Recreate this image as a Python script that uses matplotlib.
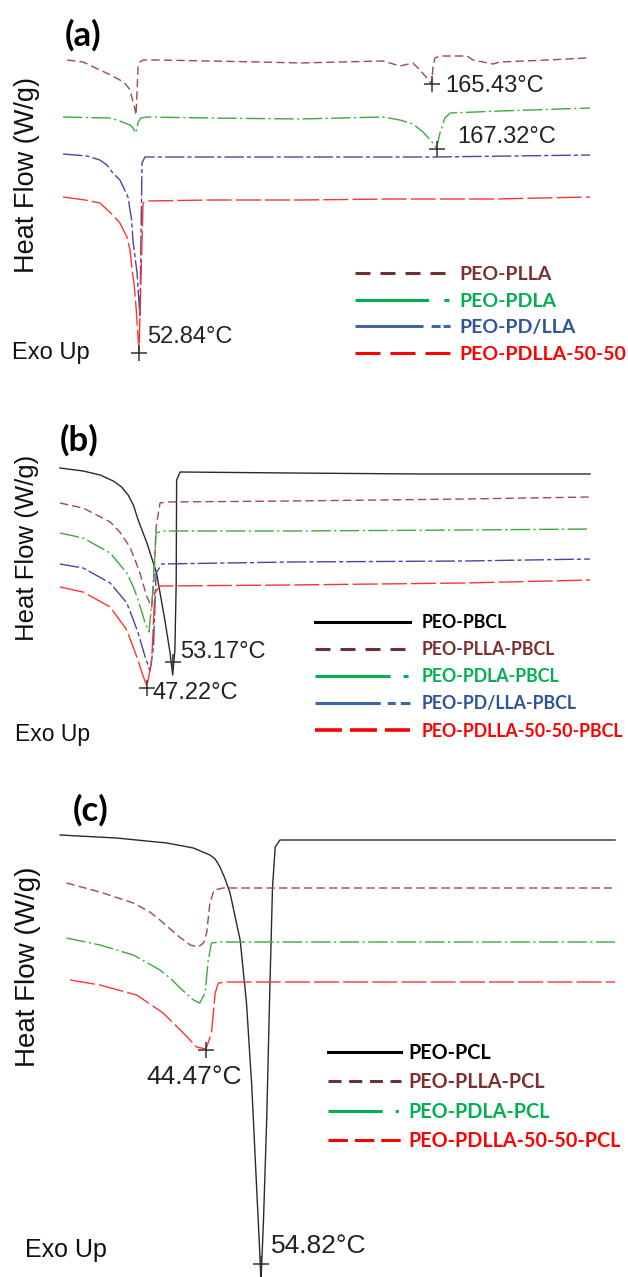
import matplotlib
matplotlib.use('Agg')
import matplotlib.pyplot as plt
from matplotlib.lines import Line2D

# dashes given in points, not in multiples of the line width
plt.rcParams['lines.scale_dashes'] = False

W, H = 628, 1277

# ---------------- data: (temperature in C, heat flow in W/g, curves offset) ----------------
# panel (a)
a_plla = [(25.2, 3.10), (31.3, 3.08), (37.8, 3.00), (42.0, 2.95), (45.5, 2.90), (48.0, 2.85),
          (49.4, 2.80), (50.5, 2.68), (51.2, 2.62), (51.7, 2.55), (52.1, 2.80), (52.5, 3.03),
          (53.2, 3.08), (54.4, 3.10), (60.0, 3.10), (80.0, 3.09), (100.0, 3.08), (114.8, 3.07),
          (130.0, 3.08), (146.7, 3.09), (153.2, 3.04), (158.2, 3.07), (160.9, 3.00), (163.6, 2.92),
          (165.4, 2.86), (165.9, 3.03), (166.7, 3.12), (168.6, 3.14), (179.0, 3.14), (181.3, 3.10),
          (189.0, 3.06), (191.7, 3.08), (210.0, 3.10), (225.1, 3.12)]
a_pdla = [(23.6, 2.53), (41.7, 2.52), (45.5, 2.49), (49.4, 2.45), (50.5, 2.42), (51.7, 2.37),
          (52.5, 2.48), (53.6, 2.52), (55.9, 2.53), (80.0, 2.52), (114.8, 2.51), (146.7, 2.53),
          (153.2, 2.50), (158.2, 2.46), (162.1, 2.38), (165.5, 2.28), (167.3, 2.22), (168.6, 2.37),
          (170.5, 2.52), (172.5, 2.57), (191.7, 2.59), (226.3, 2.62)]
a_pdlla = [(23.6, 2.16), (32.8, 2.14), (37.8, 2.10), (40.5, 2.05), (42.8, 1.97), (45.5, 1.90),
           (48.6, 1.73), (50.0, 1.50), (50.5, 1.30), (52.1, 0.97), (53.2, 0.53), (53.6, 1.30),
           (54.0, 2.07), (55.1, 2.13), (80.0, 2.13), (114.8, 2.13), (165.9, 2.13), (226.3, 2.15)]
a_5050 = [(23.6, 1.73), (32.1, 1.70), (37.8, 1.67), (42.8, 1.55), (45.5, 1.47), (48.2, 1.33),
          (49.4, 1.20), (50.2, 1.00), (51.0, 0.85), (51.7, 0.63), (52.3, 0.40), (52.84, 0.19),
          (53.6, 0.90), (54.4, 1.67), (55.9, 1.69), (80.0, 1.70), (114.8, 1.70), (150.0, 1.71),
          (190.0, 1.71), (226.3, 1.73)]
a_peaks = [(52.84, 0.17), (165.43, 2.86), (167.32, 2.21)]

# panel (b)
b_pbcl = [(27.3, 2.92), (32.6, 2.89), (36.5, 2.85), (39.5, 2.79), (41.4, 2.73), (42.9, 2.65),
          (44.1, 2.55), (45.2, 2.40), (47.2, 2.17), (49.4, 1.87), (51.3, 1.40), (52.5, 1.07),
          (53.1, 0.85), (53.6, 1.10), (53.9, 1.77), (54.0, 2.80), (54.8, 2.88), (80.0, 2.87),
          (110.0, 2.86), (148.6, 2.86)]
b_plla = [(27.3, 2.57), (32.6, 2.52), (38.8, 2.38), (41.0, 2.28), (43.3, 2.13), (44.5, 2.00),
          (45.6, 1.87), (47.2, 1.63), (48.3, 1.53), (48.8, 1.80), (49.3, 2.33), (50.2, 2.57),
          (51.7, 2.58), (80.0, 2.59), (120.0, 2.61), (148.6, 2.63)]
b_pdla = [(27.3, 2.27), (32.6, 2.22), (38.8, 2.07), (42.6, 1.87), (44.1, 1.73), (45.2, 1.60),
          (46.8, 1.37), (47.7, 1.28), (48.5, 1.67), (49.3, 2.27), (50.9, 2.29), (80.0, 2.29),
          (120.0, 2.30), (148.6, 2.31)]
b_pdlla = [(27.3, 1.96), (32.6, 1.92), (38.8, 1.77), (42.6, 1.57), (44.1, 1.40), (45.2, 1.27),
           (46.8, 1.03), (47.9, 0.89), (48.7, 1.13), (49.3, 1.87), (50.6, 1.96), (80.0, 1.98),
           (120.0, 1.99), (148.6, 2.01)]
b_5050 = [(27.3, 1.73), (32.6, 1.68), (38.8, 1.53), (42.6, 1.30), (44.9, 1.03), (46.4, 0.83),
          (47.2, 0.74), (47.9, 0.90), (48.3, 1.00), (49.0, 1.67), (50.2, 1.74), (80.0, 1.75),
          (120.0, 1.77), (148.6, 1.80)]
b_peaks = [(47.22, 0.72), (53.17, 0.98)]

# panel (c)
c_pcl = [(17.0, 4.42), (27.6, 4.39), (37.1, 4.34), (42.1, 4.29), (45.2, 4.22), (46.2, 4.18),
         (47.1, 4.10), (48.0, 3.99), (49.0, 3.84), (50.9, 3.37), (52.1, 2.74), (53.1, 1.90),
         (54.0, 0.90), (54.6, 0.24), (54.82, -0.05), (55.3, 0.57), (55.9, 1.57), (56.5, 2.90),
         (57.0, 3.90), (57.5, 4.30), (58.4, 4.37), (121.5, 4.37)]
c_plla = [(18.2, 3.94), (24.5, 3.85), (30.8, 3.74), (33.9, 3.65), (35.8, 3.57), (39.0, 3.42),
          (41.5, 3.32), (43.0, 3.30), (44.0, 3.34), (44.6, 3.44), (45.2, 3.74), (46.0, 3.87),
          (47.7, 3.89), (121.5, 3.89)]
c_pdla = [(18.2, 3.39), (24.5, 3.32), (30.8, 3.22), (35.8, 3.07), (37.7, 2.99), (39.6, 2.89),
          (42.1, 2.77), (43.3, 2.74), (44.3, 2.84), (44.9, 3.17), (45.5, 3.34), (47.1, 3.35),
          (121.5, 3.35)]
c_5050 = [(18.9, 2.97), (24.5, 2.92), (31.4, 2.82), (36.4, 2.64), (40.2, 2.44), (42.7, 2.30),
          (44.47, 2.28), (45.5, 2.44), (46.2, 2.84), (46.8, 2.94), (48.4, 2.95), (121.5, 2.95)]
c_peaks = [(44.47, 2.27), (54.82, 0.13)]

# ---------------- styles ----------------
BROWN, GREEN, BLUE, RED, BLACK = '#9E4B4B', '#3DAA3D', '#4646A5', '#FF3333', '#2A2A2A'
curve_style = {
    'plla': (BROWN, (0, (6, 3))),
    'pdla': (GREEN, (0, (14, 2.5, 1.5, 2.5))),
    'pdlla': (BLUE, (0, (14, 2.2, 3, 2.2))),
    '5050': (RED, (0, (18, 3))),
    'pcl': (BLACK, '-'),
}
LEG_BROWN, LEG_GREEN, LEG_BLUE, LEG_RED = '#6E3232', '#00B050', '#3F67A8', '#FF0000'
TXT_BROWN, TXT_BLUE = '#7B3030', '#2E5597'


def unzip(pts):
    return [p[0] for p in pts], [p[1] for p in pts]


def draw_curve(ax, pts, kind):
    color, ls = curve_style[kind]
    x, y = unzip(pts)
    ax.plot(x, y, color=color, linestyle=ls, lw=1.0)


def ptext(fig, x, y, s, **kw):
    # place text using pixel positions of the reference picture
    fig.text(x / W, 1 - y / H, s, **kw)


def main():
    fig = plt.figure(figsize=(6.28, 12.77), dpi=100)

    ax_a = fig.add_axes([0, 907 / H, 1, 370 / H])
    ax_b = fig.add_axes([0, 517 / H, 1, 380 / H])
    ax_c = fig.add_axes([0, 0, 1, 517 / H])
    ax_a.set_xlim(-0.62, 240.92)
    ax_a.set_ylim(0, 3.70)
    ax_b.set_xlim(13.58, 157.29)
    ax_b.set_ylim(0, 3.80)
    ax_c.set_xlim(5.68, 123.94)
    ax_c.set_ylim(0, 5.17)
    for ax in (ax_a, ax_b, ax_c):
        ax.axis('off')

    # curves
    draw_curve(ax_a, a_plla, 'plla')
    draw_curve(ax_a, a_pdla, 'pdla')
    draw_curve(ax_a, a_pdlla, 'pdlla')
    draw_curve(ax_a, a_5050, '5050')

    draw_curve(ax_b, b_pbcl, 'pcl')
    draw_curve(ax_b, b_plla, 'plla')
    draw_curve(ax_b, b_pdla, 'pdla')
    draw_curve(ax_b, b_pdlla, 'pdlla')
    draw_curve(ax_b, b_5050, '5050')

    draw_curve(ax_c, c_pcl, 'pcl')
    draw_curve(ax_c, c_plla, 'plla')
    draw_curve(ax_c, c_pdla, 'pdla')
    draw_curve(ax_c, c_5050, '5050')

    # peak markers
    for ax, peaks in ((ax_a, a_peaks), (ax_b, b_peaks), (ax_c, c_peaks)):
        x, y = unzip(peaks)
        ax.plot(x, y, linestyle='none', marker='+', ms=11, mew=1.1, color='#333333')

    # peak labels
    tfont = dict(family='Liberation Sans', color='#222222', va='center', ha='left')
    ax_a.text(55.9, 0.33, '52.84°C', fontsize=17, **tfont)
    ax_a.text(170.5, 2.84, '165.43°C', fontsize=17, **tfont)
    ax_a.text(175.1, 2.33, '167.32°C', fontsize=17, **tfont)
    ax_b.text(54.8, 1.08, '53.17°C', fontsize=17, **tfont)
    ax_b.text(48.4, 0.67, '47.22°C', fontsize=17, **tfont)
    ax_c.text(33.2, 2.00, '44.47°C', fontsize=19, **tfont)
    ax_c.text(56.7, 0.31, '54.82°C', fontsize=19, **tfont)

    # panel letters, axis titles
    bold = dict(family='Lato', weight='bold', ha='center', va='center', color='black')
    ptext(fig, 83, 35, '(a)', fontsize=25, **bold)
    ptext(fig, 79, 440, '(b)', fontsize=25, **bold)
    ptext(fig, 91, 810, '(c)', fontsize=25, **bold)

    yl = dict(family='Liberation Sans', rotation=90, ha='center', va='center', color='#111111')
    ptext(fig, 27, 175, 'Heat Flow (W/g)', fontsize=19.5, **yl)
    ptext(fig, 27, 548, 'Heat Flow (W/g)', fontsize=18.5, **yl)
    ptext(fig, 28, 967, 'Heat Flow (W/g)', fontsize=20, **yl)

    ex = dict(family='Liberation Sans', ha='left', va='center', color='#111111')
    ptext(fig, 12, 353, 'Exo Up', fontsize=17, **ex)
    ptext(fig, 15, 735, 'Exo Up', fontsize=16.5, **ex)
    ptext(fig, 25, 1250, 'Exo Up', fontsize=18, **ex)

    # legends (key patterns differ from the curve patterns in the original)
    leg_a = [Line2D([], [], color=LEG_BROWN, lw=2.2, linestyle=(0, (10.8, 7.2))),
             Line2D([], [], color=LEG_GREEN, lw=2.2, linestyle=(0, (53, 11, 3.6, 60))),
             Line2D([], [], color=LEG_BLUE, lw=2.2, linestyle=(0, (49, 5.8, 6.5, 2.2, 5.8, 60))),
             Line2D([], [], color=LEG_RED, lw=2.2, linestyle=(0, (18, 7.2)))]
    ax_a.legend(leg_a, ['PEO-PLLA', 'PEO-PDLA', 'PEO-PD/LLA', 'PEO-PDLLA-50-50'],
                loc='upper left', bbox_to_anchor=(355 / W, 1 - 266 / H),
                bbox_transform=fig.transFigure, frameon=False, borderpad=0,
                borderaxespad=0, handlelength=4.9, handletextpad=0.45, labelspacing=0.49,
                prop={'family': 'Lato', 'weight': 'bold', 'size': 14},
                labelcolor=[TXT_BROWN, LEG_GREEN, TXT_BLUE, LEG_RED])

    leg_b = [Line2D([], [], color='black', lw=2.2),
             Line2D([], [], color=LEG_BROWN, lw=2.2, linestyle=(0, (10.8, 7.2))),
             Line2D([], [], color=LEG_GREEN, lw=2.2, linestyle=(0, (54, 9.4, 3.6, 60))),
             Line2D([], [], color=LEG_BLUE, lw=2.2, linestyle=(0, (47, 5, 5.8, 3.6, 7.2, 60))),
             Line2D([], [], color=LEG_RED, lw=2.6, linestyle=(0, (19.4, 5.8)))]
    ax_b.legend(leg_b, ['PEO-PBCL', 'PEO-PLLA-PBCL', 'PEO-PDLA-PBCL', 'PEO-PD/LLA-PBCL',
                        'PEO-PDLLA-50-50-PBCL'],
                loc='upper left', bbox_to_anchor=(315 / W, 1 - 614 / H),
                bbox_transform=fig.transFigure, frameon=False, borderpad=0,
                borderaxespad=0, handlelength=5.34, handletextpad=0.68, labelspacing=0.57,
                prop={'family': 'Lato', 'weight': 'bold', 'size': 12.8},
                labelcolor=['black', TXT_BROWN, LEG_GREEN, TXT_BLUE, LEG_RED])

    leg_c = [Line2D([], [], color='black', lw=2.2),
             Line2D([], [], color=LEG_BROWN, lw=2.2, linestyle=(0, (9.4, 5.5))),
             Line2D([], [], color=LEG_GREEN, lw=2.2, linestyle=(0, (39, 9.4, 2.2, 60))),
             Line2D([], [], color=LEG_RED, lw=2.2, linestyle=(0, (14, 5)))]
    ax_c.legend(leg_c, ['PEO-PCL', 'PEO-PLLA-PCL', 'PEO-PDLA-PCL', 'PEO-PDLLA-50-50-PCL'],
                loc='upper left', bbox_to_anchor=(328 / W, 1 - 1043 / H),
                bbox_transform=fig.transFigure, frameon=False, borderpad=0,
                borderaxespad=0, handlelength=3.72, handletextpad=0.35, labelspacing=0.47,
                prop={'family': 'Lato', 'weight': 'bold', 'size': 14.2},
                labelcolor=['black', TXT_BROWN, LEG_GREEN, LEG_RED])

    fig.savefig('out.png', dpi=100)


if __name__ == '__main__':
    main()
